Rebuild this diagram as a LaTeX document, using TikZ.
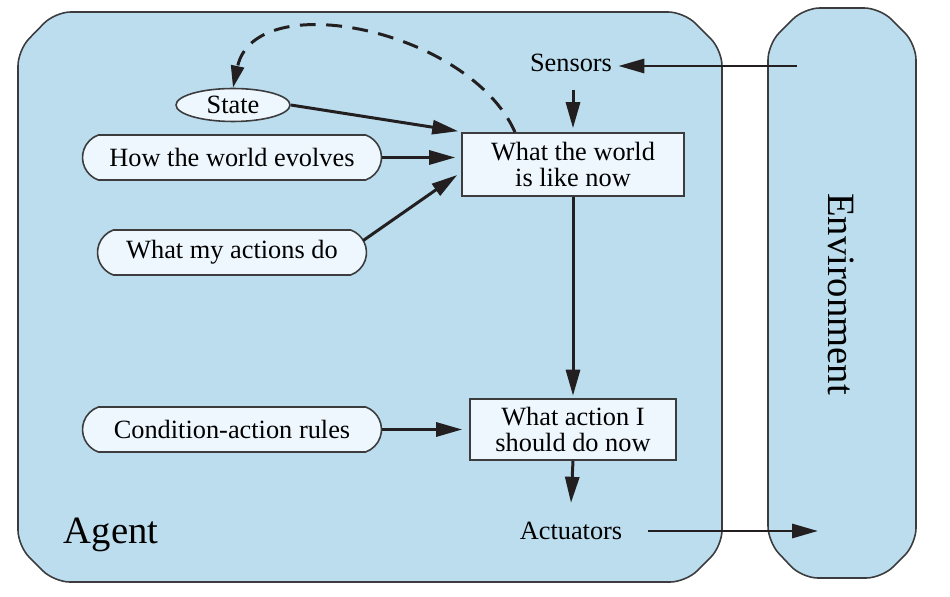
\documentclass[tikz,border=0pt]{standalone}
\usepackage{fontspec}
\setmainfont{Liberation Serif}
\usetikzlibrary{arrows.meta,shapes.misc,shapes.geometric}
\definecolor{agentblue}{RGB}{187,221,237}
\definecolor{boxfill}{RGB}{238,247,254}
\definecolor{edgegray}{RGB}{60,60,62}
\definecolor{inkblack}{RGB}{35,31,32}
\begin{document}
\begin{tikzpicture}[x=0.02cm,y=-0.02cm]
\tikzstyle{frame}=[draw=edgegray,line width=0.9pt,fill=agentblue,rounded corners=9pt]
\tikzstyle{rule}=[draw=edgegray,line width=0.9pt,fill=boxfill,rounded rectangle,rounded rectangle arc length=140,inner sep=0pt,minimum height=0.9cm,font=\fontsize{15}{16}\selectfont]
\tikzstyle{state}=[draw=edgegray,line width=0.9pt,fill=boxfill,ellipse,inner sep=0pt,minimum width=2.28cm,minimum height=0.66cm,font=\fontsize{15}{16}\selectfont]
\tikzstyle{decide}=[draw=edgegray,line width=0.9pt,fill=boxfill,rectangle,inner sep=0pt,align=center,font=\fontsize{15}{15}\selectfont]
\tikzstyle{port}=[inner sep=0pt,font=\fontsize{15}{16}\selectfont]
\tikzstyle{link}=[draw=inkblack,line width=1.7pt,-{Triangle[length=5.2mm,width=2.8mm]}]
\useasboundingbox (0,0) rectangle (950,597);
\draw [frame] (18,50) -- (55,12) -- (684,12) -- (722,50) -- (722,546) -- (686,582) -- (54,582) -- (18,546) -- cycle;
\draw [frame] (768,44) -- (804,8) -- (880,8) -- (916,44) -- (916,544) -- (882,578) -- (802,578) -- (768,542) -- cycle;
\node [font=\fontsize{22}{24}\selectfont,inner sep=0pt] (agent) at (111,535) {Agent};
\node [font=\fontsize{22}{24}\selectfont,inner sep=0pt,rotate=-90] (env) at (841,294) {Environment};
\node [port] (sensors) at (571,63) {Sensors};
\node [port] (actuators) at (571,531) {Actuators};
\node [decide,minimum width=4.44cm,minimum height=1.26cm] (world) at (573,164.5) {What the world\\is like now};
\node [decide,minimum width=4.12cm,minimum height=1.22cm] (action) at (573,429.5) {What action I\\should do now};
\node [state] (st) at (233,105) {State};
\node [rule,minimum width=5.98cm] (evolves) at (232,157.5) {How the world evolves};
\node [rule,minimum width=5.38cm] (effects) at (232,252.5) {What my actions do};
\node [rule,minimum width=5.98cm] (rules) at (232,429.5) {Condition-action rules};
\coordinate (envout) at (797,66);
\coordinate (envin) at (818,531);
\draw [link] (envout) -- ([xshift=0.12cm]sensors.east |- envout);
\draw [link] ([yshift=-0.35cm]sensors.south -| world.north) -- ([yshift=0.08cm]world.north);
\draw [link] (st.east) -- ([xshift=-0.06cm,yshift=0.02cm]world.north west);
\draw [link] (evolves.east) -- ([xshift=-0.12cm]evolves.east -| world.west);
\draw [link] ([shift={(-0.08cm,0.24cm)}]effects.east) -- ([xshift=-0.08cm,yshift=-0.21cm]world.west);
\draw [link] (world.south) -- ([yshift=0.05cm]action.north);
\draw [link] (rules.east) -- ([xshift=-0.14cm]action.west);
\draw [link] (action.south) -- ([yshift=0.38cm]actuators.north);
\draw [link] ([xshift=0.5cm]actuators.east) -- (envin);
\draw [link,dash pattern=on 9pt off 6pt,-{Triangle[length=4.4mm,width=2.6mm]}] ([xshift=-1.16cm]world.north) .. controls (470,30) and (255,-15) .. (st.north);
\end{tikzpicture}
\end{document}
